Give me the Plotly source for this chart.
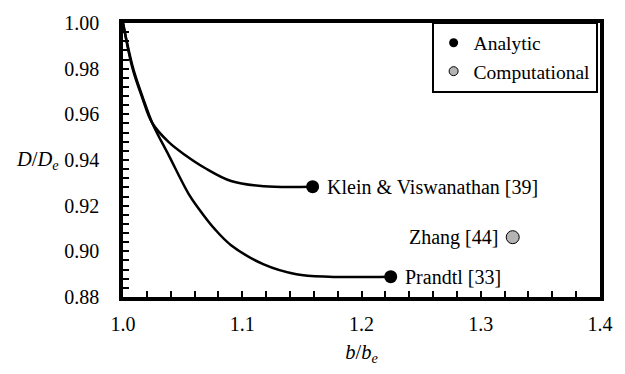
import plotly.graph_objects as go

# Curves
prandtl_x = [1.0, 1.0085, 1.0167, 1.0249, 1.0386, 1.055, 1.0632, 1.077, 1.0906, 1.118, 1.1454, 1.1727, 1.2245]
prandtl_y = [1.0, 0.9801, 0.9672, 0.9558, 0.9418, 0.9252, 0.9189, 0.9097, 0.9027, 0.8943, 0.8900, 0.8889, 0.8889]
klein_x = [1.0, 1.0080, 1.0160, 1.0245, 1.0386, 1.0523, 1.0687, 1.0906, 1.118, 1.159]
klein_y = [1.0, 0.9801, 0.9675, 0.9562, 0.9477, 0.9421, 0.9365, 0.9308, 0.9285, 0.9283]

# End points
analytic_x = [1.159, 1.2245]
analytic_y = [0.9283, 0.8889]
analytic_labels = ["Klein & Viswanathan [39]", "Prandtl [33]"]
comp_x = [1.3268]
comp_y = [0.9062]
comp_labels = ["Zhang [44]"]

xticks = [1.0, 1.1, 1.2, 1.3, 1.4]
yticks = [0.88, 0.90, 0.92, 0.94, 0.96, 0.98, 1.00]

FONT = "Liberation Serif, Times New Roman, Times, DejaVu Serif, serif"
fig = go.Figure()
fig.add_trace(go.Scatter(x=prandtl_x, y=prandtl_y, mode="lines", line=dict(color="black", width=2.5, shape="spline", smoothing=1.0), showlegend=False))
fig.add_trace(go.Scatter(x=klein_x, y=klein_y, mode="lines", line=dict(color="black", width=2.5, shape="spline", smoothing=1.0), showlegend=False))
fig.add_trace(go.Scatter(x=analytic_x, y=analytic_y, mode="markers", marker=dict(size=13, color="black"), showlegend=False))
fig.add_trace(go.Scatter(x=comp_x, y=comp_y, mode="markers", marker=dict(size=13, color="#b4b4b4", line=dict(color="black", width=1)), showlegend=False))
# legend entries
fig.add_trace(go.Scatter(x=[None], y=[None], mode="markers", name="Analytic", marker=dict(size=9, color="black")))
fig.add_trace(go.Scatter(x=[None], y=[None], mode="markers", name="Computational", marker=dict(size=9, color="#b4b4b4", line=dict(color="black", width=1))))

for x, y, t in zip(analytic_x, analytic_y, analytic_labels):
    fig.add_annotation(x=x, y=y, text=t, showarrow=False, xanchor="left", xshift=12, font=dict(family=FONT, size=20, color="black"))
for x, y, t in zip(comp_x, comp_y, comp_labels):
    fig.add_annotation(x=x, y=y, text=t, showarrow=False, xanchor="right", xshift=-13, font=dict(family=FONT, size=20, color="black"))

fig.add_annotation(xref="paper", yref="paper", x=-0.131, y=(0.94 - 0.88) / 0.12, text="<i>D</i>/<i>D<sub>e</sub></i>", showarrow=False, xanchor="right", font=dict(family=FONT, size=20.5, color="black"))

axis_common = dict(showline=True, linecolor="black", linewidth=3.5, mirror=True, ticks="inside", ticklen=6, tickwidth=2, tickcolor="black", showgrid=False, zeroline=False, tickfont=dict(family=FONT, size=20, color="black"))
fig.update_xaxes(range=[1.0, 1.4], tickvals=xticks, ticktext=[f"{v:.1f}" for v in xticks], ticklabelstandoff=6,
                 minor=dict(dtick=0.02, ticks="inside", ticklen=6, tickwidth=2, tickcolor="black"),
                 title=dict(text="<i>b</i>/<i>b<sub>e</sub></i>", font=dict(family=FONT, size=20.5, color="black"), standoff=12), **axis_common)
fig.update_yaxes(range=[0.88, 1.0], tickvals=yticks, ticktext=[f"{v:.2f}" for v in yticks], ticklabelstandoff=16,
                 minor=dict(dtick=0.004, ticks="inside", ticklen=6, tickwidth=2, tickcolor="black"), **axis_common)

fig.update_layout(width=625, height=374, margin=dict(l=123, r=15, t=13, b=77), plot_bgcolor="white", paper_bgcolor="white",
                  font=dict(family=FONT, size=20, color="black"),
                  legend=dict(x=0.995, y=1.005, xanchor="right", yanchor="top", bgcolor="white", bordercolor="black", borderwidth=2,
                              font=dict(family=FONT, size=19.5, color="black"), itemwidth=30, tracegroupgap=0))
fig.write_html("out.html")
